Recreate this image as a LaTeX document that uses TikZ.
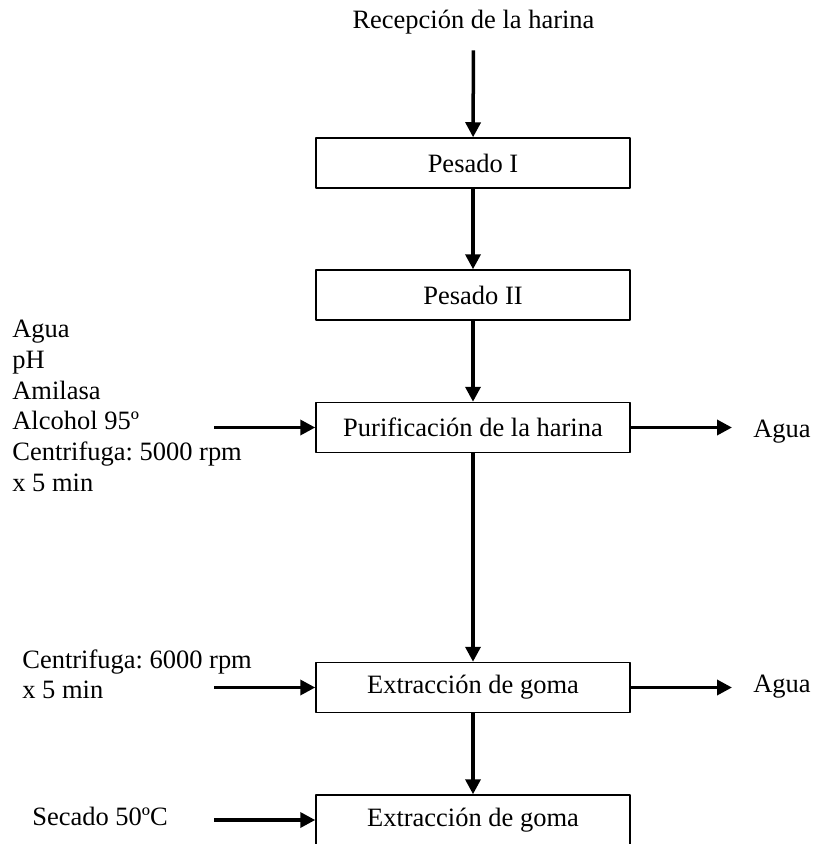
\documentclass[tikz,border=0pt]{standalone}
\usepackage{fontspec}
\setmainfont{Liberation Serif}
\usetikzlibrary{arrows.meta}
\frenchspacing

\begin{document}
\begin{tikzpicture}[font=\fontsize{15.07}{17.46}\selectfont, line join=round, >={Triangle[length=3mm, width=3mm]},
	etapa/.style={draw, line width=0.03cm, minimum width=6.28cm, minimum height=1cm, inner sep=0pt},
	flujo/.style={->, line width=0.07cm},
	nota/.style={inner sep=0pt, align=left}]
	\useasboundingbox (0,0) rectangle (16.24,-16.88);
	% etapas del proceso
	\node[anchor=base] (rec) at (9.47,-0.57) {Recepción de la harina};
	\node[etapa] (pes1) at (9.46,-3.26) {Pesado I};
	\node[etapa] (pes2) at (9.46,-5.90) {Pesado II};
	\node[etapa] (pur) at (9.46,-8.55) {Purificación de la harina};
	\node[etapa] (ext1) at (9.46,-13.75) {Extracción de goma};
	\node[etapa] (ext2) at (9.46,-16.40) {Extracción de goma};
	\draw[flujo, shorten <=0.2cm] (rec) -- (pes1);
	\draw[flujo] (pes1) -- (pes2);
	\draw[flujo] (pes2) -- (pur);
	\draw[flujo] (pur) -- (ext1);
	\draw[flujo] (ext1) -- (ext2);
	% entradas
	\node[nota, anchor=north west] (inPur) at (0.24,-6.40) {Agua\\pH\\Amilasa\\Alcohol 95º\\Centrifuga: 5000 rpm\\x 5 min};
	\node[nota, anchor=north west] (inExt1) at (0.44,-12.98) {Centrifuga: 6000 rpm\\x 5 min};
	\node[nota, anchor=base west] (inExt2) at (0.64,-16.50) {Secado 50ºC};
	\coordinate (e1) at (4.28,-8.55);
	\coordinate (e2) at (4.28,-13.75);
	\coordinate (e3) at (4.28,-16.40);
	\draw[flujo] (e1) -- (pur.west);
	\draw[flujo] (e2) -- (ext1.west);
	\draw[flujo] (e3) -- (ext2.west);
	% salidas
	\coordinate (s1) at (14.64,-8.55);
	\coordinate (s2) at (14.64,-13.75);
	\node[nota, anchor=base west] (outPur) at (15.06,-8.74) {Agua};
	\node[nota, anchor=base west] (outExt1) at (15.06,-13.84) {Agua};
	\draw[flujo] (pur.east) -- (s1);
	\draw[flujo] (ext1.east) -- (s2);
\end{tikzpicture}
\end{document}
